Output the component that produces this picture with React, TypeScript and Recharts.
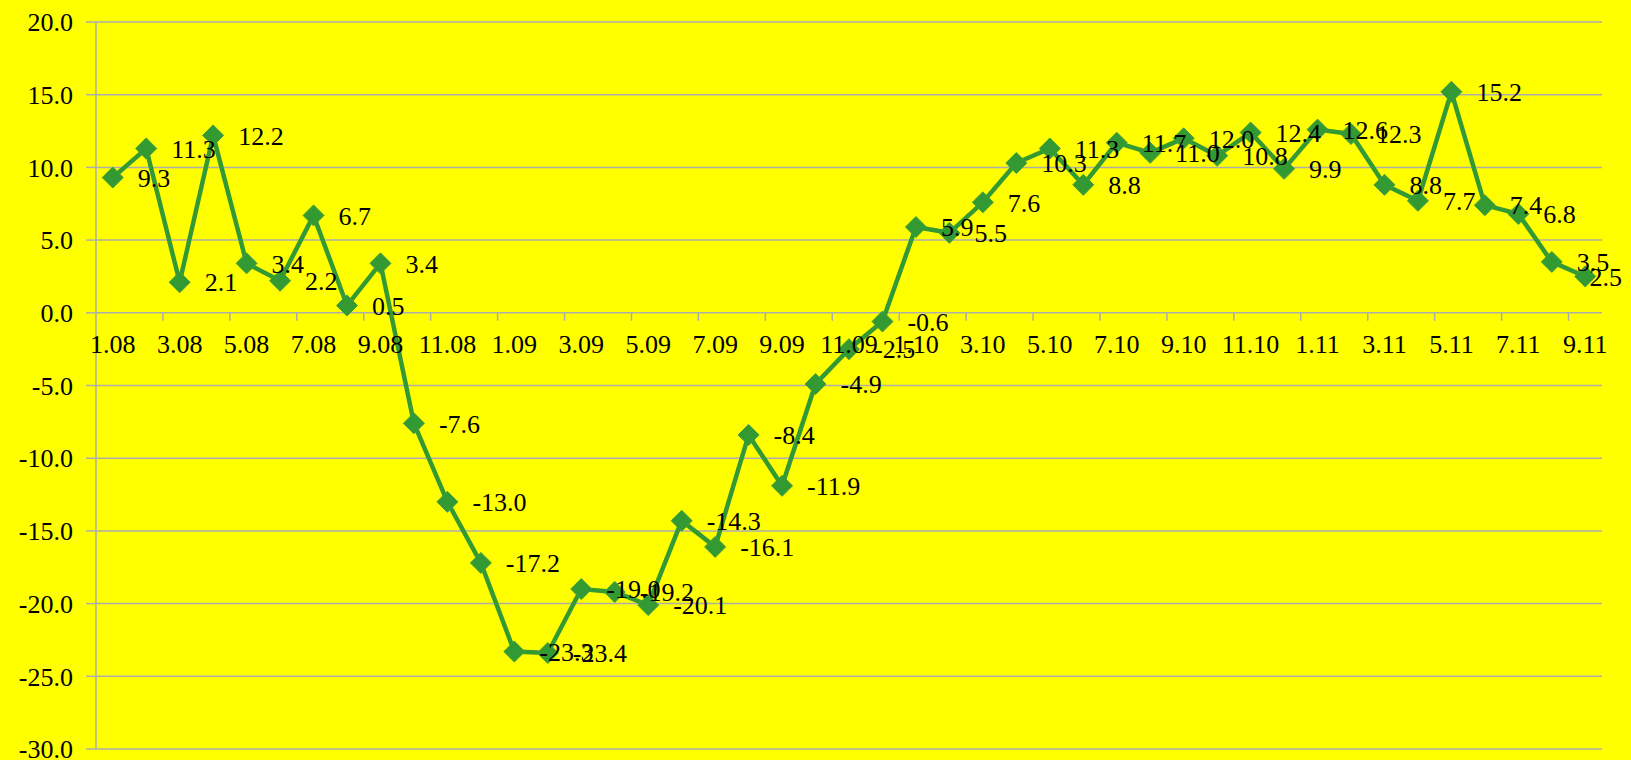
import React from 'react';
import { LineChart, Line, XAxis, YAxis, CartesianGrid, LabelList } from 'recharts';

const months = [
  '1.08', '2.08', '3.08', '4.08', '5.08', '6.08', '7.08', '8.08', '9.08', '10.08', '11.08', '12.08',
  '1.09', '2.09', '3.09', '4.09', '5.09', '6.09', '7.09', '8.09', '9.09', '10.09', '11.09', '12.09',
  '1.10', '2.10', '3.10', '4.10', '5.10', '6.10', '7.10', '8.10', '9.10', '10.10', '11.10', '12.10',
  '1.11', '2.11', '3.11', '4.11', '5.11', '6.11', '7.11', '8.11', '9.11',
];

const values = [
  9.3, 11.3, 2.1, 12.2, 3.4, 2.2, 6.7, 0.5, 3.4, -7.6, -13.0, -17.2,
  -23.3, -23.4, -19.0, -19.2, -20.1, -14.3, -16.1, -8.4, -11.9, -4.9, -2.5, -0.6,
  5.9, 5.5, 7.6, 10.3, 11.3, 8.8, 11.7, 11.0, 12.0, 10.8, 12.4, 9.9,
  12.6, 12.3, 8.8, 7.7, 15.2, 7.4, 6.8, 3.5, 2.5,
];

const yTicks = [-30, -25, -20, -15, -10, -5, 0, 5, 10, 15, 20];

const data = months.map((m, i) => ({ m, i, v: values[i] }));

const W = 1631;
const H = 760;
const X_AXIS_H = 1;
const MARGIN = { top: 22, right: 29, bottom: 11 - 2 * X_AXIS_H, left: 16 };
const Y_AXIS_W = 80;
const Y_MIN = -30;
const Y_MAX = 20;
const PLOT_H = H - 22 - 11;
const ZERO_Y = MARGIN.top + (PLOT_H * (Y_MAX - 0)) / (Y_MAX - Y_MIN);

const FONT = '"Liberation Serif", "Times New Roman", serif';
const FONT_SIZE = 26;
const GREEN = '#339933';
const GRID = '#ADADAD';
const LABEL_GAP = 25;
const EDGE_PAD = 9;

const X_DOMAIN = [-0.5, months.length - 0.5];
// every second category carries a label (Excel label interval 2)
const labelIdx = months.map((_, i) => i).filter((i) => i % 2 === 0);
// tick marks sit on the boundaries between categories, every second one
const tickBoundaries = months.map((_, i) => i - 0.5).filter((_, i) => i > 0 && i % 2 === 0);

// approximate Times-like advance widths, used only to keep labels inside the chart
const textWidth = (s: string) =>
  s.split('').reduce((w, ch) => w + (ch === '.' ? 0.25 : ch === '-' ? 0.333 : 0.5), 0) * FONT_SIZE;

const XLabelTick = (props: any) => {
  const { x, payload } = props;
  return (
    <text x={x} y={ZERO_Y + 40} textAnchor="middle" fontSize={FONT_SIZE} fontFamily={FONT} fill="#000">
      {months[payload.value]}
    </text>
  );
};

const XMarkTick = (props: any) => {
  const { x } = props;
  return <line x1={x} x2={x} y1={ZERO_Y} y2={ZERO_Y + 8} stroke={GRID} strokeWidth={1.5} />;
};

const DataLabel = (props: any) => {
  const { x, y, value, index } = props;
  if (x == null || y == null) return null;
  const text = Number(value).toFixed(1);
  const w = textWidth(text);
  let tx = x + LABEL_GAP;
  if (tx + w > W - EDGE_PAD) tx = W - EDGE_PAD - w;
  return (
    <text
      key={`l-${index}`}
      x={tx}
      y={y}
      dy="0.355em"
      textAnchor="start"
      fontSize={FONT_SIZE}
      fontFamily={FONT}
      fill="#000"
    >
      {text}
    </text>
  );
};

const Diamond = (props: any) => {
  const { cx, cy, index } = props;
  if (cx == null || cy == null) return null;
  const r = 10.5;
  return (
    <path
      key={`d-${index}`}
      d={`M${cx},${cy - r} L${cx + r},${cy} L${cx},${cy + r} L${cx - r},${cy} Z`}
      fill={GREEN}
      stroke="#3fa03f"
      strokeWidth={1}
    />
  );
};

export default function App() {
  return (
    <div style={{ position: 'absolute', left: 0, top: 0, width: W, height: H, background: '#FFFF00' }}>
      <LineChart width={W} height={H} data={data} margin={MARGIN}>
        <CartesianGrid horizontal vertical={false} stroke={GRID} strokeWidth={1.5} />
        <XAxis
          xAxisId="lbl"
          dataKey="i"
          type="number"
          domain={X_DOMAIN}
          ticks={labelIdx}
          interval={0}
          allowDataOverflow
          height={X_AXIS_H}
          axisLine={false}
          tickLine={false}
          tick={<XLabelTick />}
        />
        <XAxis
          xAxisId="marks"
          dataKey="i"
          type="number"
          domain={X_DOMAIN}
          ticks={tickBoundaries}
          interval={0}
          allowDataOverflow
          height={X_AXIS_H}
          axisLine={false}
          tickLine={false}
          tick={<XMarkTick />}
        />
        <YAxis
          width={Y_AXIS_W}
          domain={[Y_MIN, Y_MAX]}
          ticks={yTicks}
          interval={0}
          allowDataOverflow
          tickFormatter={(v: number) => v.toFixed(1)}
          axisLine={{ stroke: GRID, strokeWidth: 1.5 }}
          tickLine={{ stroke: GRID, strokeWidth: 1.5 }}
          tickSize={10}
          tickMargin={13}
          tick={{ fill: '#000', fontSize: FONT_SIZE, fontFamily: FONT }}
        />
        <Line
          xAxisId="lbl"
          type="linear"
          dataKey="v"
          stroke={GREEN}
          strokeWidth={4.5}
          dot={<Diamond />}
          activeDot={false}
          isAnimationActive={false}
        >
          <LabelList dataKey="v" content={<DataLabel />} />
        </Line>
      </LineChart>
    </div>
  );
}
